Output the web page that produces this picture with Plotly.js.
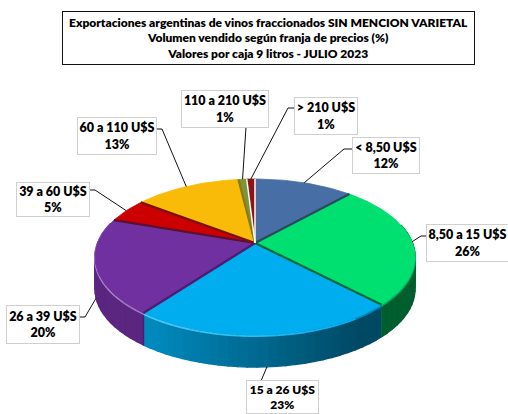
<!DOCTYPE html>
<html>
<head>
<meta charset="utf-8">
<script src="https://cdn.plot.ly/plotly-3.0.1.min.js"></script>
<style>html,body{margin:0;padding:0;background:#fff}#c{width:508px;height:414px}</style>
</head>
<body>
<div id="c"></div>
<script>
// ---- data ----
const categories = ["< 8,50 U$S","8,50 a 15 U$S","15 a 26 U$S","26 a 39 U$S","39 a 60 U$S","60 a 110 U$S","110 a 210 U$S","> 210 U$S"];
const shares = [12,26,23,20,5,13,1,1];
const titleLines = ["Exportaciones argentinas de vinos fraccionados SIN MENCION VARIETAL","Volumen vendido según franja de precios (%)","Valores por caja 9 litros - JULIO 2023"];

// ---- styles ----
const sliceColors = [[72,111,165],[0,224,112],[0,173,238],[112,48,160],[204,0,0],[250,187,8],[122,150,60],[140,20,20]];
const edgeColors = ["#2b4a5e","#00693a","#4b1d72","#5a1030","#7a1010","#8a7a10","#ffffff","#ffffff"];
// label boxes: centre x, centre y, width, height
const boxes = [[386,155,66,35],[467.5,243,81,36],[282.5,397,71,32],[43,324,72,37],[53,199.5,72,33],[117,136,78,36],[225,109,86,36],[326,115.5,62,36]];
// leader start points next to each box and elbow
const leaders = [[[353,149],[344,149]],[[427,236],[421,236]],[[261,381],[261,381]],[[80,317],[85,317]],[[89,190],[95,190]],[[157,129],[162,129]],[[246,127],[246,127]],[[295,108],[288,108]]];

// ---- projection of the tilted disc ----
const cx=255, cy=243, A=157.4, B=75.5, P=0.18, DEPTH=32;
const total = shares.reduce((a,b)=>a+b,0);
function proj(deg){
  const t=deg*Math.PI/180, u=Math.sin(t), v=-Math.cos(t), d=1-P*v;
  return [cx+A*u/d, cy+B*v/d];
}
const bounds=[0]; shares.forEach(s=>bounds.push(bounds[bounds.length-1]+s/total*360));
const rgb=c=>`rgb(${c.map(Math.round).join(",")})`;
const mix=(c,o,f)=>c.map((x,i)=>x*(1-f)+o[i]*f);
const traces=[];
const poly=(xs,ys,fill,w)=>traces.push({type:"scatter",mode:"lines",x:xs,y:ys,fill:"toself",fillcolor:fill,line:{color:fill,width:w===undefined?0.8:w},hoverinfo:"skip",showlegend:false});
const line=(xs,ys,color,width)=>traces.push({type:"scatter",mode:"lines",x:xs,y:ys,line:{color:color,width:width},hoverinfo:"skip",showlegend:false});
const shadeAt=x=>Math.max(0.42,Math.min(0.8,0.8-(x-150)/220*0.4));

// side walls, in strips so the shade runs across the front
const frontRim=[];
shares.forEach((s,i)=>{
  const a0=bounds[i], a1=bounds[i+1];
  const n=Math.max(1,Math.ceil((a1-a0)/3));
  for(let k=0;k<n;k++){
    const p=a0+(a1-a0)*k/n, q=a0+(a1-a0)*(k+1)/n, m=(p+q)/2;
    if(Math.cos(m*Math.PI/180)>0.25) continue;
    const P0=proj(p),P1=proj(q),M=proj(m);
    const c=sliceColors[i];
    poly([P0[0],P1[0],P1[0],P0[0],P0[0]],[P0[1],P1[1],P1[1]+DEPTH,P0[1]+DEPTH,P0[1]],rgb(c.map(x=>x*shadeAt(M[0]))),1.4);
    frontRim.push({x:[P0[0],P1[0]],y:[P0[1]+1,P1[1]+1],c:c,mx:M[0]});
  }
});
// vertical break lines between front slices
[1,2,3].forEach(i=>{
  const b=proj(bounds[i+1]);
  if(Math.cos(bounds[i+1]*Math.PI/180)<0.1) line([b[0],b[0]],[b[1],b[1]+DEPTH],edgeColors[i],1.5);
});
// bevel along the top rim
frontRim.forEach(r=>{
  const f=Math.max(0,Math.min(0.4,0.4-(r.mx-110)/260*0.4));
  line(r.x,r.y,rgb(f>0.02?mix(r.c,[255,255,255],f):r.c.map(x=>x*0.8)),2);
});
// top faces
shares.forEach((s,i)=>{
  const a0=bounds[i],a1=bounds[i+1];
  const xs=[cx],ys=[cy];
  const n=Math.max(2,Math.ceil((a1-a0)/1.5));
  for(let k=0;k<=n;k++){const p=proj(a0+(a1-a0)*k/n);xs.push(p[0]);ys.push(p[1]);}
  xs.push(cx);ys.push(cy);
  poly(xs,ys,rgb(sliceColors[i]));
});
// dark break lines on the top face
shares.forEach((s,i)=>{
  const p=proj(bounds[i+1]);
  line([cx,p[0]],[cy,p[1]],edgeColors[i],i>=6?1.5:2.2);
});
// leader lines, ending on the middle of each slice's outer edge
const annotations=[];
shares.forEach((s,i)=>{
  const m=(bounds[i]+bounds[i+1])/2, a=proj(m);
  const front=Math.cos(m*Math.PI/180)<-0.1;
  const end=[a[0],a[1]+(front?DEPTH:0)];
  const L=leaders[i];
  line([L[0][0],L[1][0],end[0]],[L[0][1],L[1][1],end[1]],"#111111",1);
  const b=boxes[i];
  annotations.push({xref:"x",yref:"y",x:b[0],y:b[1],xanchor:"center",yanchor:"middle",showarrow:false,
    text:categories[i]+"<br>"+s+"%",align:"center",width:b[2],height:b[3],borderpad:0,
    bgcolor:"#ffffff",bordercolor:"#cfcfcf",borderwidth:1,
    font:{family:"Lato, Carlito, sans-serif",size:i===2?12:12.5,color:"#000",weight:800}});
});
annotations.push({xref:"x",yref:"y",x:268.5,y:37.5,xanchor:"center",yanchor:"middle",showarrow:false,
  text:titleLines.join("<br>"),align:"center",width:411,height:52,borderpad:0,
  bgcolor:"#ffffff",bordercolor:"#111111",borderwidth:1,
  font:{family:"Lato, Carlito, sans-serif",size:12,color:"#000",weight:800}});

const hidden={visible:false,fixedrange:true};
Plotly.newPlot("c",traces,{
  width:508,height:414,margin:{l:0,r:0,t:0,b:0},
  paper_bgcolor:"#fff",plot_bgcolor:"#fff",showlegend:false,
  xaxis:Object.assign({range:[0,508]},hidden),
  yaxis:Object.assign({range:[414,0]},hidden),
  annotations:annotations
},{staticPlot:true,displayModeBar:false});
</script>
</body>
</html>
